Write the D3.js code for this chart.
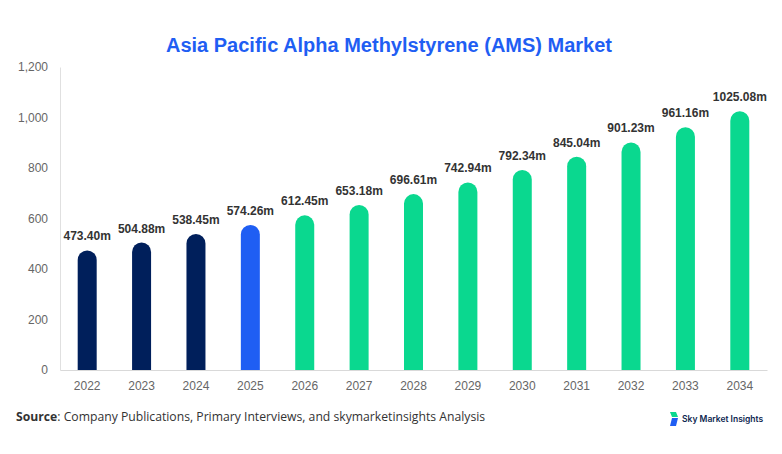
<!DOCTYPE html>
<html>
<head>
<meta charset="utf-8">
<script src="https://cdnjs.cloudflare.com/ajax/libs/d3/7.8.5/d3.min.js"></script>
<style>
  body { margin: 0; background: #fff; }
  svg { display: block; }
</style>
</head>
<body>
<script>
var years = ["2022", "2023", "2024", "2025", "2026", "2027", "2028", "2029", "2030", "2031", "2032", "2033", "2034"];
var values = [473.40, 504.88, 538.45, 574.26, 612.45, 653.18, 696.61, 742.94, 792.34, 845.04, 901.23, 961.16, 1025.08];
var kinds = ["hist", "hist", "hist", "base", "fc", "fc", "fc", "fc", "fc", "fc", "fc", "fc", "fc"];
var yTicks = [0, 200, 400, 600, 800, 1000, 1200];

var w = 782, h = 454,
    m = { top: 67, right: 15, bottom: 84, left: 60 },
    bw = 19;

var colors = { hist: "#001f5b", base: "#1f5ef3", fc: "#0ad88f" };

var svg = d3.select("body").append("svg")
  .attr("width", w).attr("height", h);

svg.append("text")
  .attr("x", w / 2 - 2).attr("y", 52)
  .attr("text-anchor", "middle")
  .attr("font-family", "Liberation Sans, Arial, sans-serif")
  .attr("font-weight", "bold")
  .attr("font-size", "20px")
  .attr("fill", "#1f5ef3")
  .text("Asia Pacific Alpha Methylstyrene (AMS) Market");

var x = d3.scaleBand().domain(years).range([m.left, w - m.right]);
var y = d3.scaleLinear().domain([0, 1200]).range([h - m.bottom, m.top]);

// y axis
var yAxis = svg.append("g")
  .attr("transform", "translate(" + m.left + ",0)")
  .call(d3.axisLeft(y).tickValues(yTicks).tickSize(0).tickPadding(12).tickFormat(d3.format(",")));
yAxis.select(".domain").attr("stroke", "#e0e0e0");
yAxis.selectAll("text")
  .attr("font-family", "Liberation Sans, Arial, sans-serif")
  .attr("font-size", "12px")
  .attr("fill", "#666");

// x axis
var xAxis = svg.append("g")
  .attr("transform", "translate(0," + y(0) + ")")
  .call(d3.axisBottom(x).tickSize(0).tickPadding(11));
xAxis.select(".domain").attr("stroke", "#d9d9d9");
xAxis.selectAll("text")
  .attr("font-family", "Liberation Sans, Arial, sans-serif")
  .attr("font-size", "12px")
  .attr("fill", "#666");

// bars with rounded tops
function barPath(d, i) {
  var cx = x(years[i]) + x.bandwidth() / 2,
      x0 = cx - bw / 2, x1 = cx + bw / 2,
      r = bw / 2, top = y(d), base = y(0);
  return "M" + x0 + "," + base +
         "L" + x0 + "," + (top + r) +
         "A" + r + "," + r + " 0 0 1 " + x1 + "," + (top + r) +
         "L" + x1 + "," + base + "Z";
}

svg.selectAll("path.bar")
  .data(values)
  .enter()
  .append("path")
  .attr("class", "bar")
  .attr("fill", function(d, i) { return colors[kinds[i]]; })
  .attr("d", barPath);

svg.selectAll("text.lbl")
  .data(values)
  .enter()
  .append("text")
  .attr("class", "lbl")
  .attr("x", function(d, i) { return x(years[i]) + x.bandwidth() / 2; })
  .attr("y", function(d) { return y(d) - 10; })
  .attr("text-anchor", "middle")
  .attr("font-family", "Liberation Sans, Arial, sans-serif")
  .attr("font-weight", "bold")
  .attr("font-size", "12px")
  .attr("fill", "#333")
  .text(function(d) { return d.toFixed(2) + "m"; });

// source
var src = svg.append("text")
  .attr("x", 16).attr("y", 421)
  .attr("font-family", "Open Sans, Noto Sans, sans-serif")
  .attr("font-size", "12.2px")
  .attr("fill", "#333");
src.append("tspan").attr("font-weight", "bold").text("Source");
src.append("tspan").text(": Company Publications, Primary Interviews, and skymarketinsights Analysis");

// logo
var logo = svg.append("g").attr("transform", "translate(668,412)");
logo.append("path").attr("d", "M2,0 L8,0 L10,5 L4,5 Z").attr("fill", "#0ad88f");
logo.append("path").attr("d", "M4,6 L10,6 L8,14 L2,14 Z").attr("fill", "#1f5ef3");
logo.append("text")
  .attr("x", 14).attr("y", 10)
  .attr("font-family", "Inter, Noto Sans, sans-serif")
  .attr("font-weight", "600")
  .attr("font-size", "8.5px")
  .attr("fill", "#0d1f4f")
  .text("Sky Market Insights");
</script>
</body>
</html>
